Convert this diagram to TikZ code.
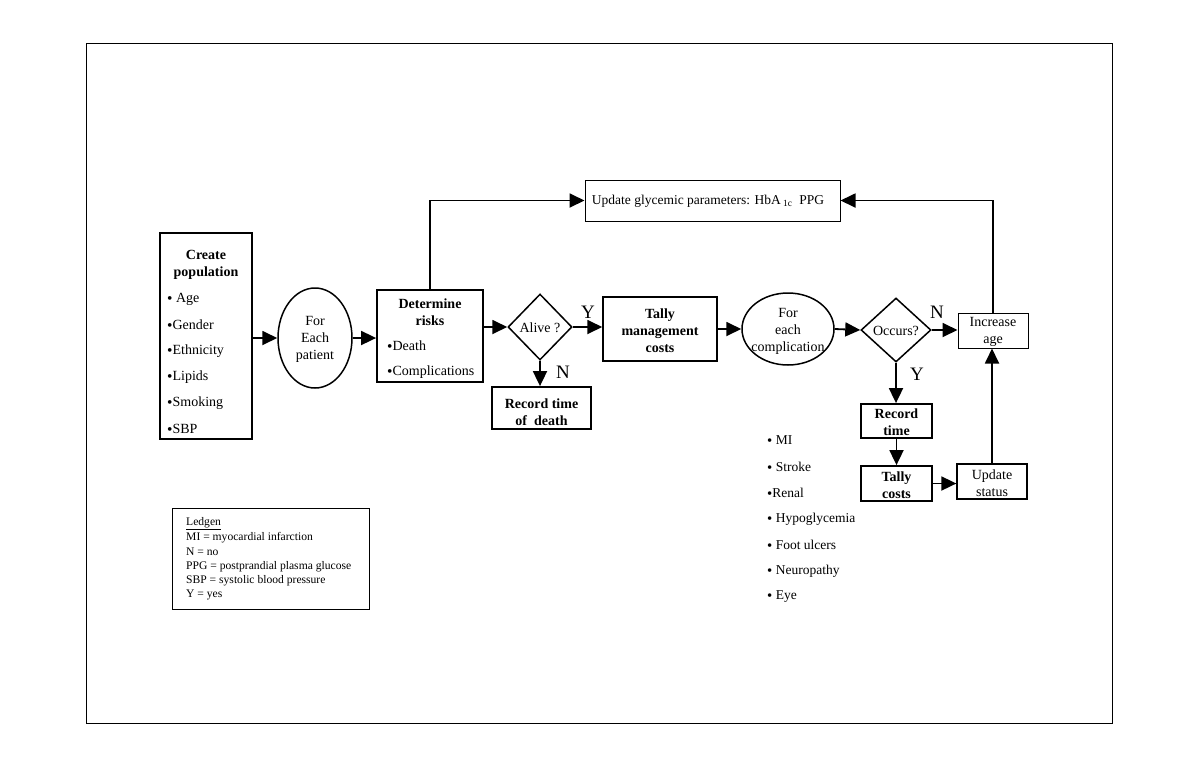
\documentclass[tikz,border=0pt]{standalone}
\usepackage{fontspec}
\usepackage{graphicx}
\setmainfont{Liberation Serif}
\usetikzlibrary{arrows.meta,shapes.geometric}
\newcommand\bul{\raisebox{-0.15ex}{\scalebox{1.1}{\textbullet}}}
\begin{document}
\begin{tikzpicture}[x=1pt,y=-1pt,
  bx/.style={draw, line width=1.8pt, inner sep=0pt},
  thinbx/.style={draw, line width=1pt, inner sep=0pt},
  ell/.style={draw, ellipse, line width=1.5pt, inner sep=0pt},
  dia/.style={draw, diamond, line width=1.5pt, inner sep=0pt},
  txt/.style={inner sep=0pt, font=\fontsize{14}{17}\selectfont},
  btxt/.style={inner sep=0pt, font=\fontsize{14}{17}\selectfont\bfseries},
  ltxt/.style={inner sep=0pt, anchor=west, font=\fontsize{11.6}{13}\selectfont},
  yn/.style={inner sep=0pt, font=\fontsize{19}{20}\selectfont},
  arr/.style={-{Triangle[length=15pt,width=14pt]}, line width=1.8pt}]
\useasboundingbox (0,0) rectangle (1197,769);
\node[thinbx, minimum width=1026pt, minimum height=680pt] (frame) at (599,383) {};

% Create population
\node[bx, line width=1.5pt, minimum width=92pt, minimum height=206pt] (cp) at (206,336) {};
\node[btxt] (cpt1) at (206,255) {Create};
\node[btxt] (cpt2) at (206,273) {population};
\foreach \t [count=\i] in {\ Age,Gender,Ethnicity,Lipids,Smoking,SBP}
  \node[txt, anchor=west] (cpl\i) at (167,273+26*\i) {\bul\t};

% For each patient
\node[ell, minimum width=74pt, minimum height=100pt] (fe) at (315,338) {};
\node[txt, align=center] (fet) at (315,339) {For\\Each\\patient};

% Determine risks
\node[bx, minimum width=106pt, minimum height=92pt] (dr) at (430,336) {};
\node[btxt] (drt1) at (430,304) {Determine};
\node[btxt] (drt2) at (430,321) {risks};
\node[txt, anchor=west] (drl1) at (387,346) {\bul Death};
\node[txt, anchor=west] (drl2) at (387,372) {\bul Complications};

% Update glycemic
\node[thinbx, minimum width=255pt, minimum height=41pt] (ug) at (712.5,200.5) {};
\node[txt, font=\fontsize{13.5}{16}\selectfont] (ugt) at (708,201) {Update glycemic parameters: HbA\,\textsubscript{1c}\ \ PPG};

% Alive diamond
\node[dia, minimum width=64pt, minimum height=66pt] (al) at (540,327) {};
\node[txt] (alt) at (540,328) {Alive ?};
\node[yn] (y1) at (588,312) {Y};
\node[yn] (n1) at (563,372) {N};

% Record time of death
\node[bx, minimum width=99pt, minimum height=42pt] (rd) at (541.5,408) {};
\node[btxt, align=center] (rdt) at (541.5,412) {Record time\\of\ \ death};

% Tally management costs
\node[bx, line width=1.5pt, minimum width=114pt, minimum height=64pt] (tm) at (660,329) {};
\node[btxt, align=center] (tmt) at (660,331) {Tally\\management\\costs};

% For each complication
\node[ell, minimum width=92pt, minimum height=72pt] (fc) at (788,329) {};
\node[txt, align=center] (fct) at (788,331) {For\\each\\complication};

% Occurs diamond
\node[dia, minimum width=70pt, minimum height=64pt] (oc) at (896,330) {};
\node[txt] (oct) at (896,331) {Occurs?};
\node[yn] (n2) at (937,312) {N};
\node[yn] (y2) at (917,374) {Y};

% Increase age
\node[thinbx, minimum width=70pt, minimum height=35pt] (ia) at (993,330.5) {};
\node[txt, align=center] (iat) at (993,332) {Increase\\age};

% Record time
\node[bx, minimum width=71pt, minimum height=34pt] (rt) at (896.5,421) {};
\node[btxt, align=center] (rtt) at (896.5,422) {Record\\time};

% Tally costs
\node[bx, minimum width=71pt, minimum height=35pt] (tc) at (896.5,483.5) {};
\node[btxt, align=center] (tct) at (896.5,485) {Tally\\costs};

% Update status
\node[thinbx, line width=1.3pt, minimum width=70pt, minimum height=35pt] (us) at (992,481.5) {};
\node[txt, align=center] (ust) at (992,483) {Update\\status};

% Complications list
\foreach \t [count=\i] in {\ MI,\ Stroke,Renal,\ Hypoglycemia,\ Foot ulcers,\ Neuropathy,\ Eye}
  \node[txt, font=\fontsize{13.5}{16}\selectfont, anchor=west] (cl\i) at (767,415+26*\i) {\bul\t};

% Legend
\node[thinbx, minimum width=197pt, minimum height=101pt] (lg) at (270.5,558.5) {};
\node[ltxt] (lg1) at (186,524) {\underline{Ledgen}};
\node[ltxt] (lg2) at (186,538) {MI = myocardial infarction};
\node[ltxt] (lg3) at (186,552) {N = no};
\node[ltxt] (lg4) at (186,567) {PPG = postprandial plasma glucose};
\node[ltxt] (lg5) at (186,581) {SBP = systolic blood pressure};
\node[ltxt] (lg6) at (186,595) {Y = yes};

% Connectors
\draw[arr] (cp.east |- fe.west) -- (fe.west);
\draw[arr] (fe.east) -- (dr.west |- fe.east);
\draw[arr] (dr.east |- al.west) -- (al.west);
\draw[arr] (dr.north) |- (ug.west);
\draw[arr] (ia.north) |- (ug.east);
\draw[arr] (al.east) -- (tm.west |- al.east);
\draw[arr] (al.south) -- (rd.north -| al.south);
\draw[arr] (tm.east |- fc.west) -- (fc.west);
\draw[arr] (fc.east) -- (oc.west);
\draw[arr] (oc.east) -- (ia.west |- oc.east);
\draw[arr] (oc.south) -- (rt.north -| oc.south);
\draw[arr] (rt.south) -- (tc.north);
\draw[arr] (tc.east) -- (us.west |- tc.east);
\draw[arr] (us.north) -- (ia.south -| us.north);
\end{tikzpicture}
\end{document}
